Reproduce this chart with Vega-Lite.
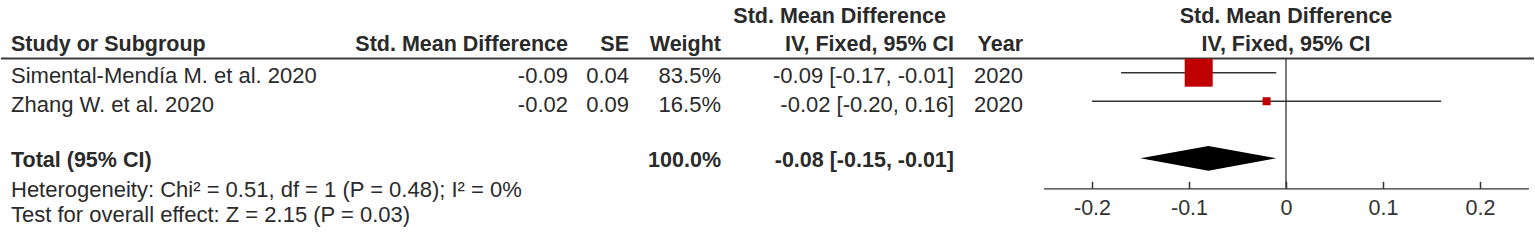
{
  "$schema": "https://vega.github.io/schema/vega-lite/v6.json",
  "width": 1535,
  "height": 240,
  "autosize": {"type": "fit", "contains": "padding"},
  "padding": 0,
  "background": "white",
  "config": {
    "view": {"stroke": null},
    "text": {"font": "Liberation Sans", "fontSize": 22, "baseline": "alphabetic", "color": "#2a2a2a"}
  },
  "datasets": {
    "head1": [{"row": 0, "ci": "Std. Mean Difference", "plot": "Std. Mean Difference"}],
    "head2": [
      {"row": 1, "study": "Study or Subgroup", "smd": "Std. Mean Difference", "se": "SE", "pct": "Weight", "ci": "IV, Fixed, 95% CI", "year": "Year", "plot": "IV, Fixed, 95% CI"},
      {"row": 5, "study": "Total (95% CI)", "smd": "", "se": "", "pct": "100.0%", "ci": "-0.08 [-0.15, -0.01]", "year": "", "plot": ""}
    ],
    "studies": [
      {"row": 2, "study": "Simental-Mendía M. et al. 2020", "smd": "-0.09", "se": "0.04", "pct": "83.5%", "ci": "-0.09 [-0.17, -0.01]", "year": "2020", "est": -0.09, "lo": -0.17, "hi": -0.01, "weight": 83.5},
      {"row": 3, "study": "Zhang W. et al. 2020", "smd": "-0.02", "se": "0.09", "pct": "16.5%", "ci": "-0.02 [-0.20, 0.16]", "year": "2020", "est": -0.02, "lo": -0.20, "hi": 0.16, "weight": 16.5}
    ],
    "total": [{"row": 5, "est": -0.08, "lo": -0.15, "hi": -0.01}],
    "notes": [
      {"row": 6, "study": "Heterogeneity: Chi² = 0.51, df = 1 (P = 0.48); I² = 0%"},
      {"row": 7, "study": "Test for overall effect: Z = 2.15 (P = 0.03)"}
    ],
    "blank": [{}]
  },
  "layer": [
    {
      "layer": [
        {"data": {"name": "head1"}, "mark": {"type": "text", "align": "right", "dx": -8, "fontWeight": "bold", "fontSize": 21.5},
         "encoding": {"x": {"datum": 4, "type": "quantitative", "scale": {"type": "linear", "domain": [0,1,2,3,4,5,6], "range": [10,567,628,720,953,1022,1285], "nice": false, "zero": false}, "axis": null},
                      "y": {"field": "row", "type": "quantitative", "scale": {"type": "linear", "domain": [0,1,2,3,5,6,7], "range": [22.7,50.5,83.3,112,166.7,197,221.7], "nice": false, "zero": false}, "axis": null},
                      "text": {"field": "ci"}}},
        {"data": {"name": "head1"}, "mark": {"type": "text", "align": "center", "fontWeight": "bold", "fontSize": 21.5},
         "encoding": {"x": {"datum": 6, "type": "quantitative", "axis": null}, "y": {"field": "row", "type": "quantitative", "axis": null}, "text": {"field": "plot"}}},
        {"data": {"name": "head2"}, "mark": {"type": "text", "align": "left", "fontWeight": "bold", "fontSize": 21.5},
         "encoding": {"x": {"datum": 0, "type": "quantitative", "axis": null}, "y": {"field": "row", "type": "quantitative", "axis": null}, "text": {"field": "study"}}},
        {"data": {"name": "head2"}, "mark": {"type": "text", "align": "right", "fontWeight": "bold", "fontSize": 21.5},
         "encoding": {"x": {"datum": 1, "type": "quantitative", "axis": null}, "y": {"field": "row", "type": "quantitative", "axis": null}, "text": {"field": "smd"}}},
        {"data": {"name": "head2"}, "mark": {"type": "text", "align": "right", "fontWeight": "bold", "fontSize": 21.5},
         "encoding": {"x": {"datum": 2, "type": "quantitative", "axis": null}, "y": {"field": "row", "type": "quantitative", "axis": null}, "text": {"field": "se"}}},
        {"data": {"name": "head2"}, "mark": {"type": "text", "align": "right", "fontWeight": "bold", "fontSize": 21.5},
         "encoding": {"x": {"datum": 3, "type": "quantitative", "axis": null}, "y": {"field": "row", "type": "quantitative", "axis": null}, "text": {"field": "pct"}}},
        {"data": {"name": "head2"}, "mark": {"type": "text", "align": "right", "fontWeight": "bold", "fontSize": 21.5},
         "encoding": {"x": {"datum": 4, "type": "quantitative", "axis": null}, "y": {"field": "row", "type": "quantitative", "axis": null}, "text": {"field": "ci"}}},
        {"data": {"name": "head2"}, "mark": {"type": "text", "align": "right", "fontWeight": "bold", "fontSize": 21.5},
         "encoding": {"x": {"datum": 5, "type": "quantitative", "axis": null}, "y": {"field": "row", "type": "quantitative", "axis": null}, "text": {"field": "year"}}},
        {"data": {"name": "head2"}, "mark": {"type": "text", "align": "center", "fontWeight": "bold", "fontSize": 21.5},
         "encoding": {"x": {"datum": 6, "type": "quantitative", "axis": null}, "y": {"field": "row", "type": "quantitative", "axis": null}, "text": {"field": "plot"}}},
        {"data": {"name": "studies"}, "mark": {"type": "text", "align": "left"},
         "encoding": {"x": {"datum": 0, "type": "quantitative", "axis": null}, "y": {"field": "row", "type": "quantitative", "axis": null}, "text": {"field": "study"}}},
        {"data": {"name": "studies"}, "mark": {"type": "text", "align": "right"},
         "encoding": {"x": {"datum": 1, "type": "quantitative", "axis": null}, "y": {"field": "row", "type": "quantitative", "axis": null}, "text": {"field": "smd"}}},
        {"data": {"name": "studies"}, "mark": {"type": "text", "align": "right"},
         "encoding": {"x": {"datum": 2, "type": "quantitative", "axis": null}, "y": {"field": "row", "type": "quantitative", "axis": null}, "text": {"field": "se"}}},
        {"data": {"name": "studies"}, "mark": {"type": "text", "align": "right"},
         "encoding": {"x": {"datum": 3, "type": "quantitative", "axis": null}, "y": {"field": "row", "type": "quantitative", "axis": null}, "text": {"field": "pct"}}},
        {"data": {"name": "studies"}, "mark": {"type": "text", "align": "right"},
         "encoding": {"x": {"datum": 4, "type": "quantitative", "axis": null}, "y": {"field": "row", "type": "quantitative", "axis": null}, "text": {"field": "ci"}}},
        {"data": {"name": "studies"}, "mark": {"type": "text", "align": "right"},
         "encoding": {"x": {"datum": 5, "type": "quantitative", "axis": null}, "y": {"field": "row", "type": "quantitative", "axis": null}, "text": {"field": "year"}}},
        {"data": {"name": "notes"}, "mark": {"type": "text", "align": "left"},
         "encoding": {"x": {"datum": 0, "type": "quantitative", "axis": null}, "y": {"field": "row", "type": "quantitative", "axis": null}, "text": {"field": "study"}}}
      ]
    },
    {
      "layer": [
        {"data": {"name": "blank"}, "mark": {"type": "rule", "color": "#3a3a3a", "strokeWidth": 2},
         "encoding": {"y": {"datum": 1.5, "type": "quantitative", "scale": {"type": "linear", "domain": [2, 5], "range": [72.7, 158.3], "nice": false, "zero": false}, "axis": null}}},
        {"data": {"name": "blank"}, "mark": {"type": "rule", "color": "#333333", "strokeWidth": 1.3},
         "encoding": {
           "x": {"datum": 0, "type": "quantitative", "scale": {"type": "linear", "domain": [-0.25, 0.25], "range": [1042.5, 1527.5], "nice": false, "zero": false},
                 "axis": {"values": [-0.2, -0.1, 0, 0.1, 0.2], "orient": "bottom", "offset": -51.7, "title": null, "grid": false,
                          "tickSize": -7, "tickWidth": 1.5, "tickColor": "#333333", "domainColor": "#333333", "domainWidth": 1.3,
                          "labelPadding": 16, "labelFont": "Liberation Sans", "labelFontSize": 21.5, "labelColor": "#333333",
                          "labelExpr": "'' + datum.value", "labelFlush": false, "labelOverlap": false}},
           "y": {"datum": 1.5, "type": "quantitative", "axis": null},
           "y2": {"datum": 6.05}}},
        {"data": {"name": "studies"}, "mark": {"type": "rule", "color": "#333333", "strokeWidth": 1.4},
         "encoding": {"x": {"field": "lo", "type": "quantitative"}, "x2": {"field": "hi"}, "y": {"field": "row", "type": "quantitative", "axis": null}}},
        {"data": {"name": "studies"}, "mark": {"type": "point", "shape": "square", "filled": true, "color": "#c00000", "opacity": 1, "strokeWidth": 0},
         "encoding": {"x": {"field": "est", "type": "quantitative"}, "y": {"field": "row", "type": "quantitative", "axis": null},
                      "size": {"field": "weight", "type": "quantitative", "scale": {"type": "linear", "domain": [16.5, 83.5], "range": [64, 784], "zero": false}, "legend": null}}},
        {"data": {"name": "total"}, "mark": {"type": "point", "shape": "M-1,0L0,-0.182L1,0L0,0.182Z", "filled": true, "color": "#000000", "opacity": 1, "strokeWidth": 0, "size": 18442},
         "encoding": {"x": {"field": "est", "type": "quantitative"}, "y": {"field": "row", "type": "quantitative", "axis": null}}}
      ]
    }
  ],
  "resolve": {"scale": {"x": "independent", "y": "independent"}, "axis": {"x": "independent", "y": "independent"}}
}
